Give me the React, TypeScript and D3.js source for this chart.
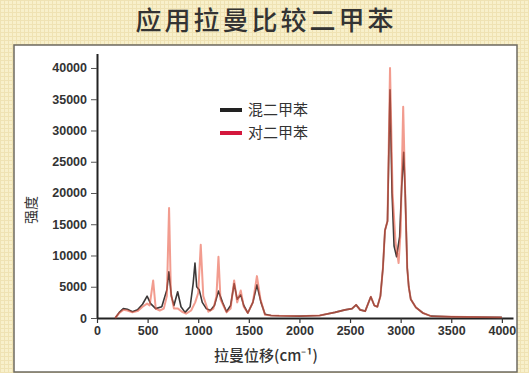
import React, { useRef, useEffect } from 'react';
import * as d3 from 'd3';

const title = '应用拉曼比较二甲苯';
const seriesNames = ['混二甲苯', '对二甲苯'];
const xLabel = '拉曼位移(cm⁻¹)';
const yLabel = '强度';
const xTicks = [0, 500, 1000, 1500, 2000, 2500, 3000, 3500, 4000];
const yTicks = [0, 5000, 10000, 15000, 20000, 25000, 30000, 35000, 40000];

// mixed xylene (black)
const mixedShift = [
  180, 220, 260, 300, 350, 400, 450, 495, 530, 580, 640, 690, 710, 735, 760, 797, 830, 870, 920, 950,
  968, 985, 1010, 1040, 1080, 1120, 1160, 1200, 1240, 1280, 1320, 1355, 1385, 1420, 1450, 1490, 1540,
  1580, 1620, 1660, 1720, 1800, 2000, 2200, 2350, 2450, 2520, 2560, 2600, 2650, 2705, 2740, 2770, 2800,
  2825, 2845, 2870, 2895, 2915, 2935, 2960, 2990, 3010, 3030, 3045, 3065, 3080, 3100, 3150, 3220, 3300,
  3500, 4000
];
const mixedIntensity = [
  0, 900, 1500, 1400, 1000, 1300, 2200, 3500, 2300, 1500, 1800, 4500, 7400, 3500, 2000, 4200, 1800, 900,
  1800, 5500, 8800, 5000, 4500, 2500, 1500, 1200, 2000, 4300, 2500, 1000, 2000, 5500, 3000, 3700, 2000,
  800, 2500, 5300, 2500, 600, 400, 350, 300, 400, 900, 1300, 1500, 2100, 1300, 1100, 3400, 2000, 1800,
  3500, 8000, 14000, 15500, 36500, 20000, 11500, 9800, 13000, 21000, 26500, 20000, 8000, 5000, 3000,
  1700, 800, 300, 200, 100
];

// para-xylene (red)
const paraShift = [
  180, 220, 260, 300, 350, 400, 450, 495, 520, 555, 580, 620, 660, 690, 712, 730, 760, 800, 840, 880,
  930, 970, 1000, 1025, 1050, 1100, 1150, 1180, 1200, 1220, 1280, 1320, 1355, 1385, 1420, 1450, 1490,
  1540, 1580, 1615, 1660, 1720, 1800, 2000, 2200, 2350, 2450, 2520, 2560, 2600, 2650, 2705, 2740, 2770,
  2800, 2825, 2845, 2870, 2895, 2920, 2950, 2980, 3000, 3025, 3045, 3065, 3080, 3100, 3150, 3220, 3300,
  3500, 4000
];
const paraIntensity = [
  0, 800, 1300, 1200, 900, 1100, 1800, 2300, 2000, 6000, 1500, 1200, 1500, 3500, 17600, 4000, 1500, 1500,
  1000, 700, 1200, 2500, 4000, 11700, 3500, 1000, 1500, 3500, 9800, 3000, 900, 1500, 6000, 2500, 4400,
  1800, 800, 2500, 6700, 3000, 500, 400, 350, 300, 400, 900, 1300, 1500, 2100, 1300, 1100, 3400, 2000,
  1800, 3500, 8000, 14000, 15500, 40000, 20000, 12000, 8800, 14000, 33800, 20000, 8000, 5000, 3000,
  1700, 800, 300, 200, 100
];

export default function App() {
  const svgRef = useRef<SVGSVGElement>(null);

  useEffect(() => {
    document.body.style.margin = '0';
    const svg = d3.select(svgRef.current);
    svg.selectAll('*').remove();

    const width = 529,
      height = 373;

    // beige textured background
    const defs = svg.append('defs');
    const pat = defs
      .append('pattern')
      .attr('id', 'bg')
      .attr('width', 4)
      .attr('height', 4)
      .attr('patternUnits', 'userSpaceOnUse');
    pat.append('rect').attr('width', 4).attr('height', 4).attr('fill', '#f8f0cb');
    pat.append('path').attr('d', 'M0 0.5H4M0.5 0V4').attr('stroke', '#efe2b3').attr('stroke-width', 1);

    svg.append('rect').attr('width', width).attr('height', height).attr('fill', 'url(#bg)');

    svg
      .append('text')
      .text(title)
      .attr('x', 266)
      .attr('y', 30)
      .attr('text-anchor', 'middle')
      .attr('font-family', '"Noto Sans CJK SC", sans-serif')
      .attr('font-size', '26px')
      .attr('font-weight', 500)
      .attr('letter-spacing', '3px')
      .attr('fill', '#333');

    // white panel
    svg
      .append('rect')
      .attr('x', 14)
      .attr('y', 45)
      .attr('width', 503)
      .attr('height', 327)
      .attr('fill', '#fff')
      .attr('stroke', '#6d6a60')
      .attr('stroke-width', 1.5);

    const x = d3.scaleLinear().domain([0, 4110]).range([97, 513]);
    const y = d3.scaleLinear().domain([0, 42300]).range([318, 53.6]);
    const fmt = d3.format('d');

    const xAxis = svg
      .append('g')
      .attr('transform', 'translate(0,318)')
      .call(
        d3.axisBottom(x).tickValues(xTicks).tickFormat(fmt).tickSize(5).tickSizeOuter(0).tickPadding(3)
      );
    xAxis.select('.domain').attr('stroke', '#222').attr('stroke-width', 2);
    xAxis.selectAll('line').attr('stroke', '#333').attr('stroke-width', 1.2);
    xAxis
      .selectAll('text')
      .attr('font-family', '"Liberation Sans", Arial, sans-serif')
      .attr('font-weight', 'bold')
      .attr('font-size', '12.5px')
      .attr('fill', '#333');

    const yAxis = svg
      .append('g')
      .attr('transform', 'translate(97,0)')
      .call(
        d3.axisLeft(y).tickValues(yTicks).tickFormat(fmt).tickSize(6).tickSizeOuter(0).tickPadding(4)
      );
    yAxis.select('.domain').attr('stroke', '#222').attr('stroke-width', 2);
    yAxis.selectAll('line').attr('stroke', '#555').attr('stroke-width', 1);
    yAxis
      .selectAll('text')
      .attr('font-family', '"Liberation Sans", Arial, sans-serif')
      .attr('font-weight', 'bold')
      .attr('font-size', '12.5px')
      .attr('fill', '#333');

    svg
      .append('text')
      .text(xLabel)
      .attr('x', 266)
      .attr('y', 361)
      .attr('text-anchor', 'middle')
      .attr('font-family', '"Noto Sans CJK SC", sans-serif')
      .attr('font-size', '15px')
      .attr('font-weight', 500)
      .attr('fill', '#333');

    svg
      .append('text')
      .text(yLabel)
      .attr('transform', 'translate(36,210) rotate(-90)')
      .attr('text-anchor', 'middle')
      .attr('font-family', '"Noto Sans CJK SC", sans-serif')
      .attr('font-size', '14px')
      .attr('fill', '#333');

    const line = d3
      .line<[number, number]>()
      .x(d => x(d[0]))
      .y(d => y(d[1]));

    const mixed = mixedShift.map((s, i) => [s, mixedIntensity[i]] as [number, number]);
    const para = paraShift.map((s, i) => [s, paraIntensity[i]] as [number, number]);

    svg
      .append('path')
      .attr('d', line(mixed))
      .attr('fill', 'none')
      .attr('stroke', '#3b3838')
      .attr('stroke-width', 1.6)
      .attr('stroke-linejoin', 'round');

    svg
      .append('path')
      .attr('d', line(para))
      .attr('fill', 'none')
      .attr('stroke', '#e95a45')
      .attr('stroke-opacity', 0.6)
      .attr('stroke-width', 2)
      .attr('stroke-linejoin', 'round');

    // legend
    const legendColors = ['#222', '#d4173d'];
    const legend = svg
      .selectAll('g.legend')
      .data(seriesNames)
      .enter()
      .append('g')
      .attr('class', 'legend')
      .attr('transform', (d, i) => 'translate(220,' + (110 + i * 23) + ')');
    legend
      .append('line')
      .attr('x1', 0)
      .attr('x2', 22)
      .attr('stroke', (d, i) => legendColors[i])
      .attr('stroke-width', 4);
    legend
      .append('text')
      .text(d => d)
      .attr('x', 28)
      .attr('y', 5)
      .attr('font-family', '"Noto Sans CJK SC", sans-serif')
      .attr('font-size', '15px')
      .attr('fill', '#333');
  }, []);

  return <svg ref={svgRef} width={529} height={373} style={{ display: 'block' }} />;
}
